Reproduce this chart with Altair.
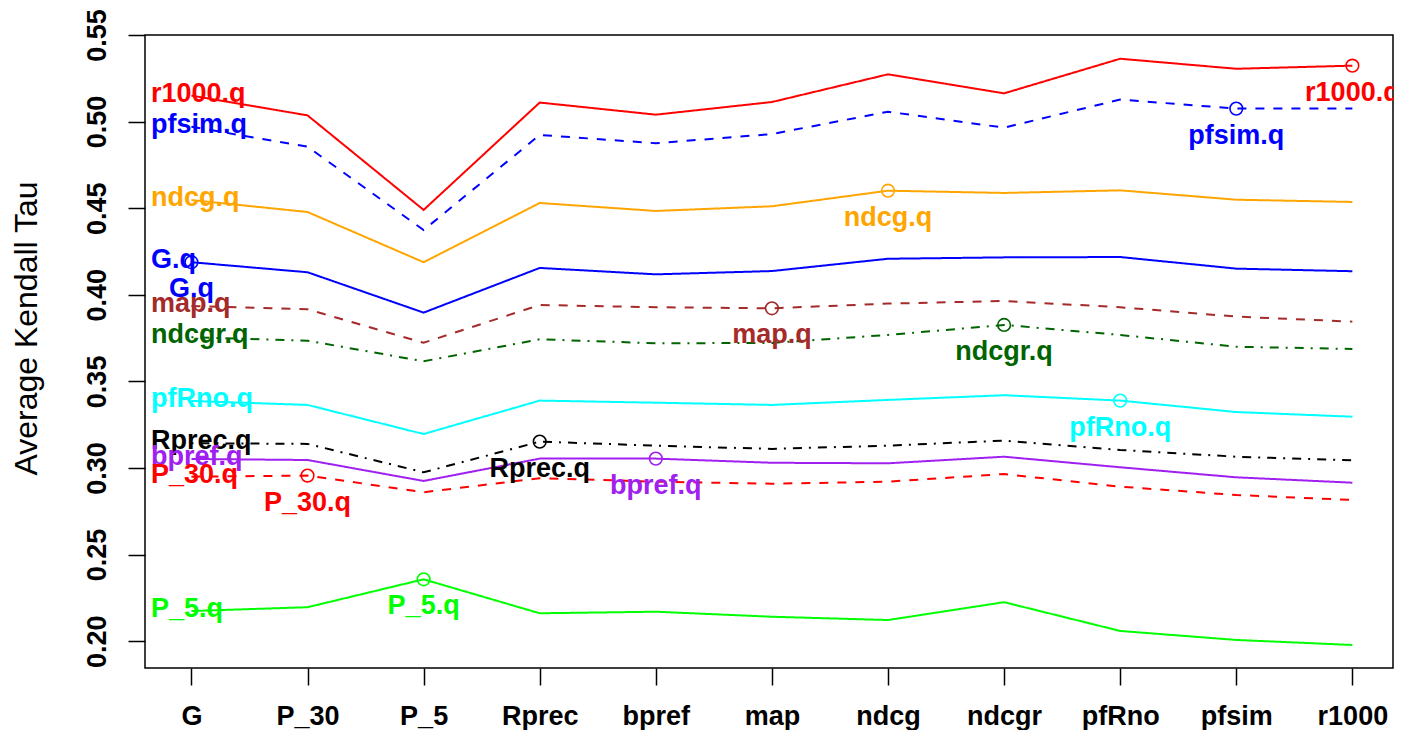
import altair as alt
import pandas as pd

measures = ["G", "P_30", "P_5", "Rprec", "bpref", "map", "ndcg", "ndcgr", "pfRno", "pfsim", "r1000"]

series = ["r1000.q", "pfsim.q", "ndcg.q", "G.q", "map.q", "ndcgr.q",
          "pfRno.q", "Rprec.q", "bpref.q", "P_30.q", "P_5.q"]

r1000_q = [0.515, 0.5036, 0.449, 0.511, 0.504, 0.5113, 0.5273, 0.5163, 0.5363, 0.5305, 0.5323]
pfsim_q = [0.497, 0.4855, 0.4374, 0.4923, 0.4875, 0.4928, 0.5057, 0.4965, 0.5127, 0.5075, 0.5075]
ndcg_q = [0.4547, 0.4478, 0.4188, 0.453, 0.4484, 0.4511, 0.4601, 0.4588, 0.4603, 0.4549, 0.4536]
G_q = [0.4188, 0.413, 0.3897, 0.4155, 0.4118, 0.4137, 0.4208, 0.4216, 0.4218, 0.4151, 0.4136]
map_q = [0.3935, 0.3916, 0.3723, 0.3941, 0.3928, 0.3922, 0.3949, 0.3964, 0.3928, 0.3874, 0.3845]
ndcgr_q = [0.3755, 0.3735, 0.3616, 0.3743, 0.372, 0.3722, 0.3768, 0.3826, 0.3768, 0.37, 0.3687]
pfRno_q = [0.3387, 0.3364, 0.3196, 0.3389, 0.3377, 0.3364, 0.3393, 0.342, 0.3389, 0.3323, 0.3296]
Rprec_q = [0.3143, 0.3139, 0.2975, 0.3152, 0.3129, 0.311, 0.3129, 0.3158, 0.3104, 0.3065, 0.3044]
bpref_q = [0.3052, 0.3046, 0.2925, 0.3054, 0.3054, 0.303, 0.3027, 0.3065, 0.3004, 0.2946, 0.2915]
P_30_q = [0.295, 0.2956, 0.286, 0.2941, 0.2921, 0.2909, 0.2921, 0.2965, 0.2892, 0.2844, 0.2815]
P_5_q = [0.2174, 0.2196, 0.2357, 0.2161, 0.217, 0.2141, 0.2122, 0.2225, 0.2059, 0.2007, 0.1978]

series_values = [r1000_q, pfsim_q, ndcg_q, G_q, map_q, ndcgr_q, pfRno_q, Rprec_q, bpref_q, P_30_q, P_5_q]

colors = ["#FF0000", "#0000FF", "#FFA500", "#0000FF", "#A52A2A", "#006400",
          "#00FFFF", "#000000", "#A020F0", "#FF0000", "#00FF00"]
dashes = [[1, 0], [9, 9], [1, 0], [1, 0], [9, 9], [2, 7, 9, 7],
          [1, 0], [2, 7, 9, 7], [1, 0], [9, 9], [1, 0]]

y_ticks = [0.20, 0.25, 0.30, 0.35, 0.40, 0.45, 0.50, 0.55]

rows = []
for s, vals in zip(series, series_values):
    for i, (m, v) in enumerate(zip(measures, vals)):
        rows.append({"series": s, "measure": m, "idx": i + 1, "value": v})
lines_df = pd.DataFrame(rows)

pts = []
for s, vals in zip(series, series_values):
    m = s[:-2]
    i = measures.index(m)
    pts.append({"series": s, "measure": m, "idx": i + 1, "value": vals[i]})
pts_df = pd.DataFrame(pts)

left_df = pd.DataFrame({"series": series, "value": [v[0] for v in series_values]})

FONT = "Liberation Sans"

label_expr = "[" + ",".join("'" + m + "'" for m in measures) + "][datum.value - 1]"

x_enc = alt.X("idx:Q",
              scale=alt.Scale(domain=[0.6, 11.35], nice=False, zero=False),
              axis=alt.Axis(values=list(range(1, 12)), labelExpr=label_expr, title=None,
                            labelPadding=18, labelFontSize=27, labelBaseline="top",
                            labelFontWeight="bold"))
y_enc = alt.Y("value:Q",
              scale=alt.Scale(domain=[0.1845, 0.55], nice=False, zero=False),
              axis=alt.Axis(values=y_ticks, format=".2f", title="Average Kendall Tau",
                            labelAngle=270, labelAlign="center", labelBaseline="bottom",
                            labelPadding=17, labelFontSize=27, labelFontWeight="bold",
                            titleAngle=270, titleAlign="center", titleBaseline="middle",
                            titleX=-119, titleY=293, titleFontSize=32,
                            titleFont=FONT, titleFontWeight="normal", titleColor="black"))

color_enc = alt.Color("series:N", scale=alt.Scale(domain=series, range=colors), legend=None)

lines = alt.Chart(lines_df).mark_line(strokeWidth=2).encode(
    x=x_enc, y=y_enc, color=color_enc,
    strokeDash=alt.StrokeDash("series:N", scale=alt.Scale(domain=series, range=dashes), legend=None),
    order="idx:Q",
)

points = alt.Chart(pts_df).mark_point(shape="circle", filled=False, size=160, strokeWidth=1.6, opacity=1).encode(
    x=x_enc, y=y_enc, color=color_enc,
)

point_labels = alt.Chart(pts_df).mark_text(dy=27, fontSize=27, font=FONT, fontWeight="bold",
                                           align="center", baseline="middle").encode(
    x=x_enc, y=y_enc, color=color_enc, text="series:N",
)

left_labels = alt.Chart(left_df).mark_text(dy=-2, fontSize=27, font=FONT, fontWeight="bold",
                                           align="left", baseline="middle").encode(
    x=alt.value(6), y=y_enc, color=color_enc, text="series:N",
)

chart = alt.layer(lines, points, point_labels, left_labels).properties(
    width=1248, height=633,
    autosize="none",
    padding={"left": 137, "top": 27, "right": 1, "bottom": 62},
).configure_view(
    stroke="black", strokeWidth=1.5
).configure_axis(
    domain=False, grid=False, tickColor="black", tickSize=17, tickWidth=1.5,
    labelFont=FONT, labelColor="black", titleFont=FONT,
)

chart.save("out.html", embed_options={"renderer": "svg", "actions": False})
